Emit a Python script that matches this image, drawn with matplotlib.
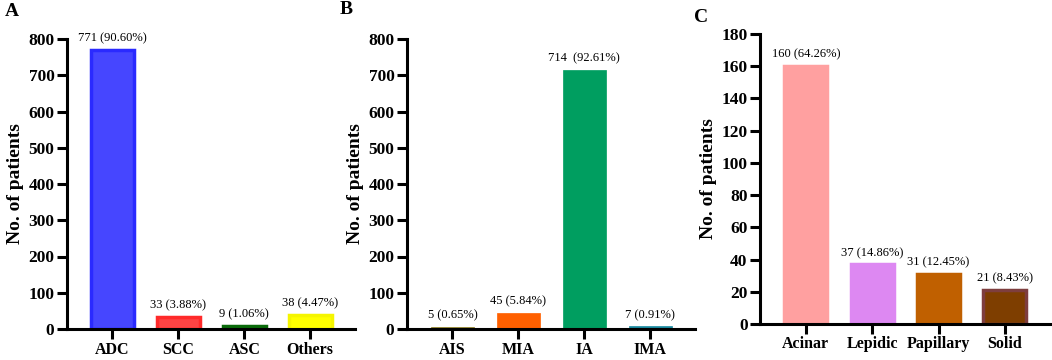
import matplotlib.pyplot as plt

plt.rcParams['font.family'] = ['Liberation Serif', 'DejaVu Serif']

# Panel A: histological type
types_a = ['ADC', 'SCC', 'ASC', 'Others']
counts_a = [771, 33, 9, 38]
labels_a = ['771 (90.60%)', '33 (3.88%)', '9 (1.06%)', '38 (4.47%)']
fill_a = ['#4646FF', '#FF4444', '#0A7A0A', '#FFFF00']
edge_a = ['#2A2AFF', '#FF2A2A', '#0A6A0A', '#F5F500']

# Panel B: invasion category
types_b = ['AIS', 'MIA', 'IA', 'IMA']
counts_b = [5, 45, 714, 7]
labels_b = ['5 (0.65%)', '45 (5.84%)', '714  (92.61%)', '7 (0.91%)']
fill_b = ['#8A7A20', '#FF6000', '#009E60', '#1A8AA0']
edge_b = fill_b

# Panel C: predominant subtype
types_c = ['Acinar', 'Lepidic', 'Papillary', 'Solid']
counts_c = [160, 37, 31, 21]
labels_c = ['160 (64.26%)', '37 (14.86%)', '31 (12.45%)', '21 (8.43%)']
fill_c = ['#FFA0A0', '#DD88F2', '#C06000', '#7E3E00']
edge_c = ['#FFA0A0', '#DD88F2', '#C06000', '#7E3E3E']

fig = plt.figure(figsize=(10.52, 3.6), dpi=100)

panels = [
    ([67, 288], 800, 100, types_a, counts_a, labels_a, fill_a, edge_a, 2.5, 'A', (5, 12)),
    ([407, 288], 800, 100, types_b, counts_b, labels_b, fill_b, edge_b, 0.5, 'B', (340, 10)),
    ([760, 290], 180, 20, types_c, counts_c, labels_c, fill_c, edge_c, 2.5, 'C', (694, 17)),
]

for (lx, w), ymax, step, cats, vals, labs, fc, ec, lw, letter, (px, py) in panels:
    top = 39 if ymax == 800 else 34
    bottom = 329 if ymax == 800 else 324
    ax = fig.add_axes([lx / 1052, (360 - bottom) / 360, w / 1052, (bottom - top) / 360])
    x = range(len(cats))
    bars = ax.bar(x, vals, width=0.65, color=fc, edgecolor=ec, linewidth=lw)
    for b, t in zip(bars, labs):
        ax.annotate(t, (b.get_x() + b.get_width() / 2, b.get_height()),
                    xytext=(0, 4), textcoords='offset points',
                    ha='center', va='bottom', fontsize=9)
    ax.set_xlim(-0.69, 3.68)
    ax.set_ylim(0, ymax)
    ax.set_yticks(range(0, ymax + 1, step))
    ax.set_xticks(list(x))
    ax.set_xticklabels(cats)
    for s in ['top', 'right']:
        ax.spines[s].set_visible(False)
    for s in ['left', 'bottom']:
        ax.spines[s].set_linewidth(2.2)
    ax.tick_params(axis='y', width=2.2, length=7, labelsize=12.5, pad=2)
    ax.tick_params(axis='x', width=2.2, length=7.5, labelsize=11.5, pad=1.5)
    for t in ax.get_xticklabels() + ax.get_yticklabels():
        t.set_fontweight('bold')
    ax.set_ylabel('No. of patients', fontsize=14, fontweight='bold', labelpad=3)
    fig.text(px / 1052, 1 - py / 360, letter, fontsize=14, fontweight='bold',
             ha='left', va='center')

fig.savefig('out.png', dpi=100)
